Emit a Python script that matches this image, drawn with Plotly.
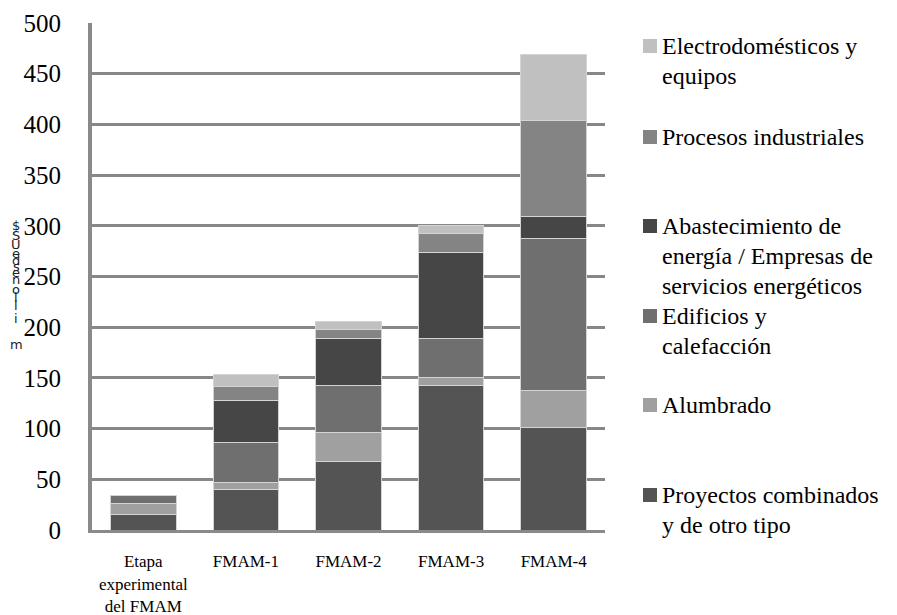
import plotly.graph_objects as go

categories = ["Etapa<br>experimental<br>del FMAM", "FMAM-1", "FMAM-2", "FMAM-3", "FMAM-4"]
proyectos = [15, 40, 68, 143, 101]
alumbrado = [11, 6.5, 28, 7, 36.5]
edificios = [8, 39.5, 47, 38.5, 150]
abastecimiento = [0, 42, 46, 85.5, 22]
procesos = [0, 14, 9, 18.5, 94]
electro = [0, 11.5, 7.5, 7.5, 65]

series_names = [
    "Proyectos combinados<br>y de otro tipo",
    "Alumbrado",
    "Edificios y<br>calefacción",
    "Abastecimiento de<br>energía / Empresas de<br>servicios energéticos",
    "Procesos industriales",
    "Electrodomésticos y<br>equipos",
]
series_values = [proyectos, alumbrado, edificios, abastecimiento, procesos, electro]
colors = ["#545454", "#a0a0a0", "#6f6f6f", "#464646", "#848484", "#c0c0c0"]
y_ticks = [0, 50, 100, 150, 200, 250, 300, 350, 400, 450, 500]
y_title_chars = "$SUedsenollim"

# plot area in pixels
L, R, T, B = 92, 605, 23, 530
W, H = 897, 615


def px(p):
    return (p - L) / (R - L)


def py(p):
    return (B - p) / (B - T)


fig = go.Figure()
for name, vals, col in zip(series_names, series_values, colors):
    fig.add_trace(go.Bar(
        x=categories, y=[v if v else None for v in vals], name=name,
        marker=dict(color=col, line=dict(color="#d4d4d4", width=1)),
        showlegend=False,
    ))

SERIF = "Liberation Serif, Times New Roman, Tinos, serif"

fig.update_layout(
    width=W, height=H,
    margin=dict(l=L, r=W - R, t=T, b=H - B, pad=0),
    barmode="stack", bargap=0.36,
    plot_bgcolor="white", paper_bgcolor="white",
    font=dict(family=SERIF, color="black"),
)
fig.update_yaxes(
    range=[0, 500], tickvals=y_ticks, ticktext=[str(t) for t in y_ticks],
    showgrid=True, gridcolor="#878787", gridwidth=3,
    showline=True, linecolor="#8a8a8a", linewidth=4,
    zeroline=False, ticks="", ticklabelstandoff=22, automargin=False,
    tickfont=dict(family=SERIF, size=25, color="black"),
)
fig.update_xaxes(
    showline=True, linecolor="#8a8a8a", linewidth=3,
    ticks="", ticklabelstandoff=14, automargin=False,
    tickfont=dict(family=SERIF, size=17, color="black"),
)

# manual legend (one annotation per text line, 30 px line pitch)
legend_centers = [495, 405, 316, 226, 137, 46]
LINE = 30
for name, col, c in zip(series_names, colors, legend_centers):
    fig.add_shape(type="rect", xref="paper", yref="paper",
                  x0=px(643), x1=px(657), y0=py(c + 7), y1=py(c - 7),
                  fillcolor=col, line=dict(width=0))
    for i, line in enumerate(name.split("<br>")):
        fig.add_annotation(xref="paper", yref="paper", x=px(661), y=py(c + i * LINE),
                           xanchor="left", yanchor="middle", align="left",
                           text=line, showarrow=False, borderpad=0,
                           font=dict(family=SERIF, size=24, color="black"))

# stacked upright y-axis title characters
char_y = [225, 235, 244, 253, 260, 266, 272, 279, 289, 297, 305, 318, 344]
for ch, yy in zip(y_title_chars, char_y):
    fig.add_annotation(xref="paper", yref="paper", x=px(16), y=py(yy),
                       xanchor="center", yanchor="middle", text=ch,
                       showarrow=False, borderpad=0,
                       font=dict(family="DejaVu Sans", size=13, color="#222222"))

fig.write_html("out.html", config={"displayModeBar": False},
               post_script="document.body.style.margin='0px';document.body.style.overflow='hidden';")
